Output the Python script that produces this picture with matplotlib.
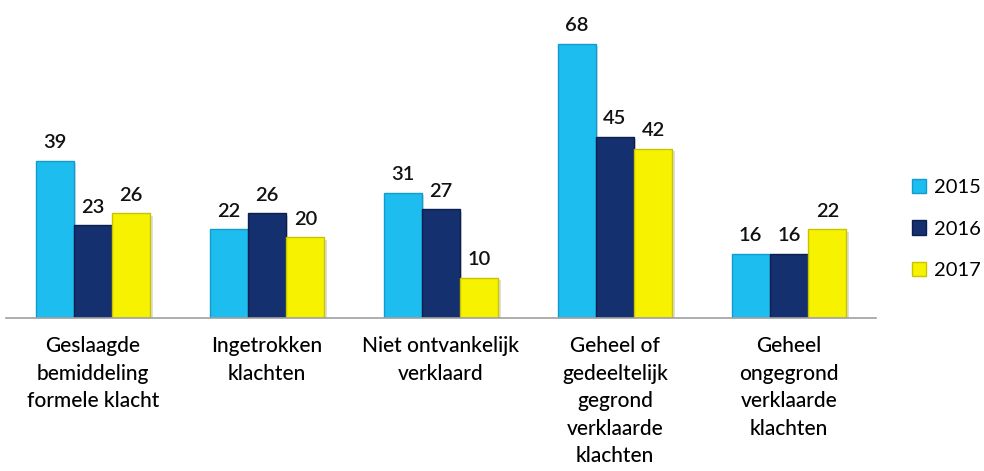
import numpy as np
import matplotlib.pyplot as plt

categories = ["Geslaagde\nbemiddeling\nformele klacht", "Ingetrokken\nklachten",
              "Niet ontvankelijk\nverklaard", "Geheel of\ngedeeltelijk\ngegrond\nverklaarde\nklachten",
              "Geheel\nongegrond\nverklaarde\nklachten"]
years = ["2015", "2016", "2017"]
v2015 = [39, 22, 31, 68, 16]
v2016 = [23, 26, 27, 45, 16]
v2017 = [26, 20, 10, 42, 22]

colors = ["#1ebdf0", "#15306e", "#f7f200"]
edges = ["#129ccd", "#0c1f4c", "#c9c400"]

plt.rcParams['font.family'] = ['Lato', 'DejaVu Sans']

fig = plt.figure(figsize=(9.84, 4.71), dpi=100)
ax = fig.add_axes([6/984, (471-318)/471, 870/984, 318/471])

x = np.arange(len(categories))
w = 0.22
for i, vals in enumerate([v2015, v2016, v2017]):
    pos = x + (i - 1) * w
    # soft shadow
    ax.bar(pos + 0.012, vals, w, bottom=-0.6, color="#c8c8c8", zorder=1, alpha=0.6)
    ax.bar(pos, vals, w, color=colors[i], edgecolor=edges[i], linewidth=1.0,
           label=years[i], zorder=2)
    for p, v in zip(pos, vals):
        ax.text(p, v + 2.4, str(v), ha="center", va="bottom", fontsize=14.5,
                fontweight="semibold", color="#111111")

ax.set_xlim(-0.5, len(categories) - 0.5)
ax.set_ylim(0, 78.9)
for s in ["top", "right", "left"]:
    ax.spines[s].set_visible(False)
ax.spines["bottom"].set_color("#a0a0a0")
ax.spines["bottom"].set_linewidth(1.2)
ax.spines["bottom"].set_zorder(3)
ax.set_yticks([])
ax.set_xticks(x)
ax.set_xticklabels(categories, fontsize=15, linespacing=1.47, fontweight="medium")
ax.tick_params(axis="x", length=0, pad=13)

leg = ax.legend(loc="center left", bbox_to_anchor=(1.02, 0.28), frameon=False,
                fontsize=14.5, handlelength=0.7, handleheight=0.7, labelspacing=1.2,
                handletextpad=0.4)

fig.savefig("out.png", dpi=100)
